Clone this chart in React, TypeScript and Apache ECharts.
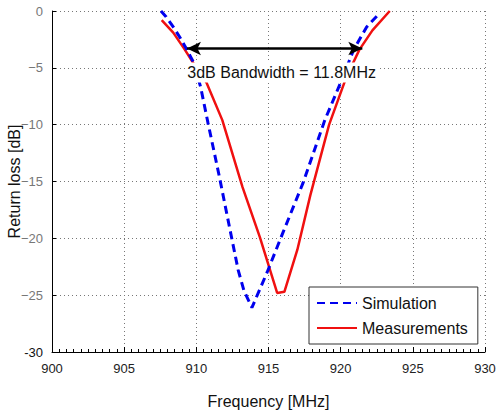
import React, { useEffect, useRef } from "react";
import * as echarts from "echarts";

// Simulated return loss (MHz, dB)
const simFreq = [907.55, 907.9, 908.4, 908.9, 909.3, 909.8, 910.3, 910.8, 911.6, 912.2, 912.9, 913.3, 913.85, 914.9, 916.0, 917.4, 918.9, 920.0, 920.9, 921.8, 922.7];
const simRL = [0, -0.5, -1.4, -2.4, -3.3, -4.5, -6.7, -9.8, -14.6, -18.4, -22.8, -24.6, -26.1, -23.0, -19.5, -15.1, -9.6, -6.3, -3.4, -1.4, -0.2];

// Measured return loss (MHz, dB)
const measFreq = [907.6, 908.4, 909.2, 909.8, 910.7, 911.8, 913.2, 914.4, 915.6, 916.1, 917.0, 917.9, 919.2, 920.4, 921.3, 922.2, 923.4];
const measRL = [-0.8, -1.9, -3.4, -4.6, -6.3, -9.6, -15.5, -19.9, -24.8, -24.7, -21.0, -16.2, -10.0, -5.8, -3.4, -1.7, 0];

// 3 dB bandwidth marker
const bwLevel = -3.3;
const bwStart = 909.35;
const bwEnd = 921.5;
const bwText = "3dB Bandwidth = 11.8MHz";

const xTicks = [900, 905, 910, 915, 920, 925, 930];
const FONT = "'Liberation Sans', Arial, Helvetica, sans-serif";

export default function App() {
  const ref = useRef<HTMLDivElement>(null);

  useEffect(() => {
    if (!ref.current) return;
    document.body.style.margin = "0";
    const chart = echarts.init(ref.current, null, { renderer: "svg" });
    const sim = simFreq.map((f, i) => [f, simRL[i]]);
    const meas = measFreq.map((f, i) => [f, measRL[i]]);

    chart.setOption({
      animation: false,
      backgroundColor: "#fff",
      textStyle: { fontFamily: FONT },
      grid: { left: 52, top: 11, right: 13, bottom: 58, outerBoundsMode: "none", containLabel: false },
      xAxis: {
        type: "value",
        min: xTicks[0],
        max: xTicks[xTicks.length - 1],
        interval: 5,
        name: "Frequency [MHz]",
        nameLocation: "middle",
        nameGap: 41,
        nameMoveOverlap: false,
        nameTextStyle: { fontSize: 16, color: "#111", fontFamily: FONT },
        axisLine: { onZero: false, lineStyle: { color: "#000", width: 1 } },
        axisTick: { show: true, inside: true, length: 5, lineStyle: { color: "#000" } },
        minorTick: { show: true, splitNumber: 10, length: 3, lineStyle: { color: "#000" } },
        axisLabel: {
          fontSize: 13,
          color: "#222",
          margin: 10,
          fontFamily: FONT,
        },
        splitLine: { show: true, lineStyle: { color: "#777", type: [1, 3], width: 1 } },
      },
      yAxis: {
        type: "value",
        min: -30,
        max: 0,
        interval: 5,
        name: "Return loss [dB]",
        nameLocation: "middle",
        nameGap: 30,
        nameMoveOverlap: false,
        nameTextStyle: { fontSize: 16, color: "#111", fontFamily: FONT },
        axisLine: { onZero: false, lineStyle: { color: "#000", width: 1 } },
        axisTick: { show: true, inside: true, length: 4, lineStyle: { color: "#000" } },
        axisLabel: {
          fontSize: 13,
          margin: 9,
          fontFamily: FONT,
          color: "#777",
          formatter: (v: number) =>
            v === -30 ? "{b|-30}" : v === 0 ? "0" : "\u2212" + Math.abs(v),
          rich: { b: { color: "#111", fontSize: 13, fontFamily: FONT } },
        },
        splitLine: { show: true, lineStyle: { color: "#777", type: [1, 3], width: 1 } },
      },
      legend: {
        orient: "vertical",
        left: 309,
        top: 287,
        backgroundColor: "#fff",
        borderColor: "#333",
        borderWidth: 1,
        padding: [8, 10, 8, 7],
        itemGap: 9,
        itemWidth: 40,
        itemHeight: 14,
        itemStyle: { opacity: 0 },
        textStyle: { fontSize: 16, color: "#111", fontFamily: FONT },
        data: ["Simulation", "Measurements"],
      },
      series: [
        {
          name: "Simulation",
          type: "line",
          data: sim,
          showSymbol: false,
          symbol: "none",
          lineStyle: { color: "#0000ee", width: 3, type: [8, 5] },
          itemStyle: { color: "#0000ee" },
          z: 3,
        },
        {
          name: "Measurements",
          type: "line",
          data: meas,
          showSymbol: false,
          symbol: "none",
          lineStyle: { color: "#f01010", width: 2.5 },
          itemStyle: { color: "#f01010" },
          z: 2,
          markLine: {
            silent: true,
            z: 5,
            symbol: ["arrow", "arrow"],
            symbolSize: [10, 14],
            lineStyle: { color: "#000", width: 2.5, type: "solid" },
            label: {
              show: true,
              position: "insideMiddleBottom",
              distance: 14,
              offset: [7, 0],
              padding: [2, 1, 2, 1],
              backgroundColor: "#fff",
              formatter: bwText,
              fontSize: 16,
              color: "#111",
              fontFamily: FONT,
            },
            data: [[{ coord: [bwStart, bwLevel] }, { coord: [bwEnd, bwLevel] }]],
          },
        },
      ],
    });
    return () => chart.dispose();
  }, []);

  return <div ref={ref} style={{ width: 498, height: 410 }} />;
}
